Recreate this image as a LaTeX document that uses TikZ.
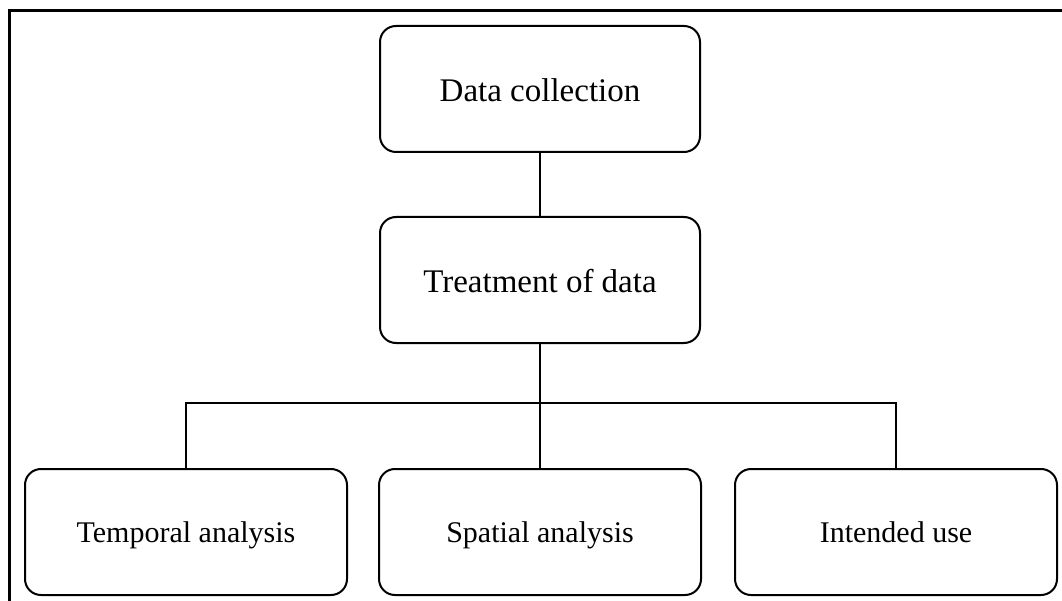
\documentclass[tikz,border=0pt]{standalone}
\usepackage{fontspec}
\setmainfont{Liberation Serif}
\begin{document}
\begin{tikzpicture}[x=1pt,y=-1pt,
  box/.style={draw=black,line width=2pt,rounded corners=16pt,minimum width=320pt,minimum height=126pt,inner sep=0pt,text height=27pt,text depth=1pt,font=\fontsize{33}{38}\selectfont},
  smallbox/.style={box,minimum width=322pt,text height=21pt,text depth=1pt,font=\fontsize{30}{35}\selectfont},
  conn/.style={line width=2pt}]
\useasboundingbox (0,0) rectangle (1062,601);
\draw[line width=3pt] (9,620) -- (9,11) -- (1080,11);
\node[box] (dc) at (540,89) {Data collection};
\node[box] (tr) at (540,280) {Treatment of data};
\node[smallbox] (ta) at (186,532) {Temporal analysis};
\node[smallbox] (sa) at (540,532) {Spatial analysis};
\node[smallbox] (iu) at (896,532) {Intended use};
\coordinate (bar) at (540,403);
\draw[conn] (dc) -- (tr);
\draw[conn] (tr) -- (sa);
\draw[conn] (ta.north) -- (ta.north |- bar) -- (iu.north |- bar) -- (iu.north);
\end{tikzpicture}
\end{document}
